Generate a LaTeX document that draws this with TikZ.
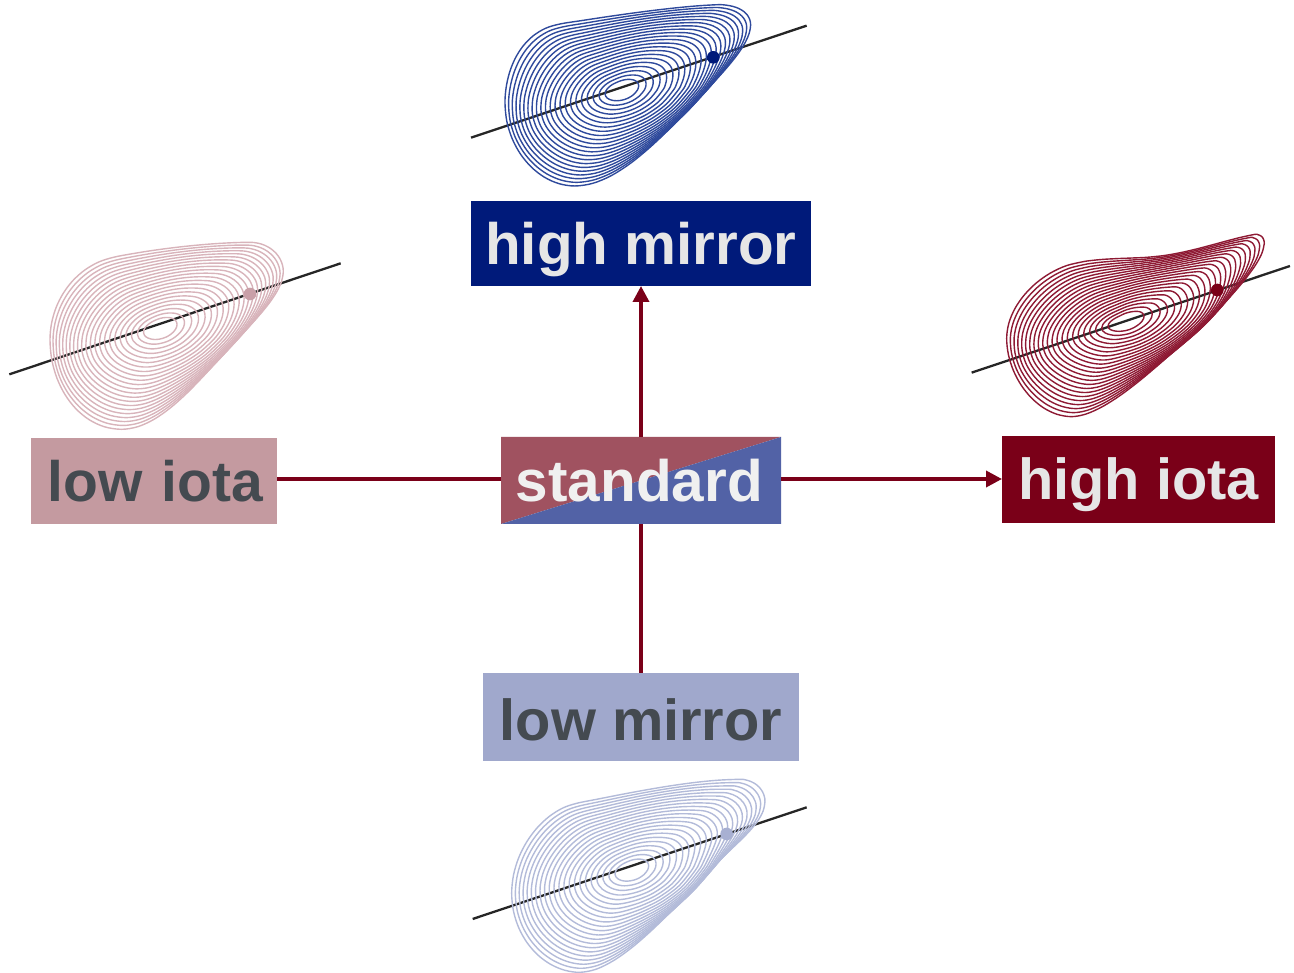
\documentclass[tikz,border=0pt]{standalone}
\usepackage{fontspec}
\setmainfont{Liberation Sans}
\usetikzlibrary{arrows.meta}
\definecolor{navy}{HTML}{001A7A}
\definecolor{wine}{HTML}{7A0018}
\definecolor{rosy}{HTML}{C49AA0}
\definecolor{lilac}{HTML}{A0A8CC}
\definecolor{stdred}{HTML}{A05260}
\definecolor{stdblue}{HTML}{5262A6}
\definecolor{lighttext}{HTML}{E6E6E6}
\definecolor{stdtext}{HTML}{F0F0F0}
\definecolor{darktext}{HTML}{444A50}
\definecolor{navyline}{HTML}{2F4A9C}
\definecolor{wineline}{HTML}{8E1A34}
\definecolor{rosyline}{HTML}{D8B4BB}
\definecolor{lilacline}{HTML}{B3BBD9}
\definecolor{rosydot}{HTML}{C9A0A8}
\definecolor{lilacdot}{HTML}{A8B0D2}
\tikzset{
  box/.style={inner sep=0pt,outer sep=0pt,text depth=0pt,align=center},
  link/.style={draw=wine,line width=3.6pt},
  arrowlink/.style={link,-{Triangle[length=16pt,width=16pt]}},
  axisline/.style={black!85,line width=2.3pt},
  contour/.style={line width=1.4pt}
}
% parameters: \Cx \Cy centre; \Ea \Eb ellipse semi axes; \Etilt tilt; \Ek bulge; \Ephi bulge direction
\newcommand\fluxshape[2]{% colour, boundary as Bezier segments x0/y0/x1/y1/x2/y2/x3/y3
  \gdef\blist{}
  \foreach \ax/\ay/\bx/\by/\ex/\ey/\dx/\dy in {#2}{
    \foreach \tv in {0,0.143,0.286,0.429,0.571,0.714,0.857}{
      \pgfmathsetmacro\uv{1-\tv}
      \pgfmathsetmacro\px{\uv*\uv*\uv*\ax+3*\uv*\uv*\tv*\bx+3*\uv*\tv*\tv*\ex+\tv*\tv*\tv*\dx}
      \pgfmathsetmacro\py{\uv*\uv*\uv*\ay+3*\uv*\uv*\tv*\by+3*\uv*\tv*\tv*\ey+\tv*\tv*\tv*\dy}
      \pgfmathsetmacro\dxv{\px-\Cx}
      \pgfmathsetmacro\dyv{\py-\Cy}
      \pgfmathsetmacro\rb{veclen(\dxv,\dyv)}
      \pgfmathsetmacro\ph{atan2(\dyv,\dxv)}
      \pgfmathsetmacro\re{\Ea/sqrt(cos(\ph-\Etilt)^2+(\Ea/\Eb)^2*sin(\ph-\Etilt)^2)*(1+\Ek*(1+cos(\ph-\Ephi))/2)}
      \xdef\blist{\blist\ifx\blist\empty\else,\fi\rb/\ph/\re}
    }
  }
  \foreach \k in {0,...,21}{
    \pgfmathsetmacro\sv{0.1+0.9*\k/21}
    \gdef\ptlist{}
    \foreach \rb/\ph/\re in \blist{
      \pgfmathsetmacro\rr{\sv*((1-\sv)*\re+\sv*\rb)}
      \pgfmathsetmacro\xv{\Cx+\rr*cos(\ph)}
      \pgfmathsetmacro\yv{\Cy+\rr*sin(\ph)}
      \xdef\ptlist{\ptlist (\xv,\yv)}
    }
    \edef\tmpdraw{\noexpand\draw[contour,draw=#1] plot[smooth cycle,tension=0.55] coordinates {\ptlist};}
    \tmpdraw
  }
}
\begin{document}
\begin{tikzpicture}[x=1pt,y=-1pt]
\useasboundingbox (0,0) rectangle (1294,973);

% high mirror equilibrium
\begin{scope}[shift={(460,0)},x=0.3333pt,y=-0.3333pt]
  \coordinate (hmA) at (33,413); \coordinate (hmB) at (1040,77);
  \draw[axisline] (hmA) -- (hmB);
  \def\Cx{480}\def\Cy{270}\def\Ea{450}\def\Eb{240}\def\Etilt{-18}\def\Ek{0.4}\def\Ephi{30}
  \fluxshape{navyline}{872/75/872/35/830/14/775/14, 775/14/650/18/450/48/300/72, 300/72/190/90/135/200/135/310, 135/310/135/440/230/558/345/558, 345/558/470/558/600/420/740/270, 740/270/800/205/872/130/872/75}
  \fill[navy] (760,172) circle (19);
\end{scope}

% low iota equilibrium
\begin{scope}[shift={(0,230)},x=0.3333pt,y=-0.3333pt]
  \coordinate (liA) at (28,433); \coordinate (liB) at (1022,100);
  \draw[axisline] (liA) -- (liB);
  \def\Cx{475}\def\Cy{295}\def\Ea{450}\def\Eb{250}\def\Etilt{-18}\def\Ek{0.4}\def\Ephi{30}
  \fluxshape{rosyline}{850/125/850/75/805/37/750/37, 750/37/640/37/470/55/340/82, 340/82/230/105/150/210/150/330, 150/330/150/470/240/598/365/598, 365/598/480/598/590/460/700/340, 700/340/760/275/850/190/850/125}
  \fill[rosydot] (750,192) circle (19);
\end{scope}

% high iota equilibrium
\begin{scope}[shift={(960,220)},x=0.3333pt,y=-0.3333pt]
  \coordinate (hiA) at (35,458); \coordinate (hiB) at (990,138);
  \draw[axisline] (hiA) -- (hiB);
  \def\Cx{490}\def\Cy{305}\def\Ea{450}\def\Eb{190}\def\Etilt{-18}\def\Ek{0.6}\def\Ephi{30}
  \fluxshape{wineline}{913/70/913/55/905/43/885/43, 885/43/790/60/680/105/560/112, 560/112/490/116/430/115/370/125, 370/125/250/140/140/250/140/355, 140/355/140/470/230/590/335/590, 335/590/430/590/580/450/700/340, 700/340/790/257/913/130/913/70}
  \fill[wine] (772,210) circle (19);
\end{scope}

% low mirror equilibrium
\begin{scope}[shift={(460,770)},x=0.3333pt,y=-0.3333pt]
  \coordinate (lmA) at (38,447); \coordinate (lmB) at (1040,112);
  \draw[axisline] (lmA) -- (lmB);
  \def\Cx{510}\def\Cy{300}\def\Ea{450}\def\Eb{250}\def\Etilt{-18}\def\Ek{0.4}\def\Ephi{30}
  \fluxshape{lilacline}{915/95/915/55/880/28/840/28, 840/28/700/28/500/70/350/100, 350/100/250/120/155/240/155/370, 155/370/155/500/250/607/360/607, 360/607/470/607/620/440/750/300, 750/300/820/225/915/160/915/95}
  \fill[lilacdot] (800,192) circle (19);
\end{scope}

% labelled boxes
\node[box,fill=navy,text=lighttext,minimum width=340pt,minimum height=85pt,text height=43pt,font=\bfseries\fontsize{58.4}{64}\selectfont] (highmirror) at (641,243.5) {high mirror};
\node[box,fill=rosy,text=darktext,minimum width=246pt,minimum height=86pt,text height=40pt,text width=246pt,font=\bfseries\fontsize{57}{64}\selectfont] (lowiota) at (154,481) {\hspace*{3pt}low iota};
\node[box,fill=wine,text=lighttext,minimum width=273pt,minimum height=87pt,text height=41pt,font=\bfseries\fontsize{57.8}{64}\selectfont] (highiota) at (1138.5,479.5) {high iota};
\node[box,fill=lilac,text=darktext,minimum width=316pt,minimum height=88pt,text height=46pt,font=\bfseries\fontsize{57.8}{64}\selectfont] (lowmirror) at (641,717) {low mirror};
\node[box,text=stdtext,minimum width=280pt,minimum height=87pt,text height=42pt,text width=280pt,font=\bfseries\fontsize{58.5}{64}\selectfont,
  path picture={
    \fill[stdred] (path picture bounding box.south west) -- (path picture bounding box.north west) -- (path picture bounding box.north east) -- cycle;
    \fill[stdblue] (path picture bounding box.south west) -- (path picture bounding box.south east) -- (path picture bounding box.north east) -- cycle;
  }] (standard) at (641,480.5) {standard\hspace*{3pt}};

% connectors
\draw[arrowlink] (standard.north) -- (highmirror.south);
\draw[link] (standard.south) -- (lowmirror.north);
\draw[link] ([yshift=1.5pt]standard.west) -- ([yshift=2pt]lowiota.east);
\draw[arrowlink] ([yshift=1.5pt]standard.east) -- ([yshift=0.5pt]highiota.west);
\end{tikzpicture}
\end{document}
